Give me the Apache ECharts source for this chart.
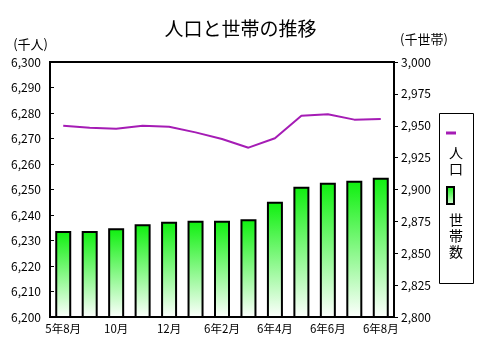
<!DOCTYPE html>
<html>
<head>
<meta charset="utf-8">
<style>html,body{margin:0;padding:0;background:#fff;}#c{width:481px;height:352px;}</style>
<script src="https://cdn.jsdelivr.net/npm/echarts@6/dist/echarts.min.js"></script>
</head>
<body>
<div id="c"></div>
<script>
const categories = ['5年8月','9月','10月','11月','12月','6年1月','6年2月','3月','6年4月','5月','6年6月','7月','6年8月'];
const population = [6275.0, 6274.2, 6273.8, 6275.0, 6274.6, 6272.4, 6269.8, 6266.4, 6270.1, 6278.9, 6279.5, 6277.4, 6277.6];
const households = [2867.5, 2867.5, 2869.6, 2872.7, 2874.7, 2875.5, 2875.5, 2876.6, 2890.4, 2902.2, 2905.3, 2906.9, 2909.3];
const leftTicks = {min: 6200, max: 6300, interval: 10};
const rightTicks = {min: 2800, max: 3000, interval: 25};

const FONT = '"Noto Sans CJK JP", sans-serif';
const fmt = v => v.toLocaleString('en-US');
const greenGrad = new echarts.graphic.LinearGradient(0, 0, 0, 1, [
  {offset: 0, color: '#0ef00e'}, {offset: 1, color: '#ffffff'}
]);

const chart = echarts.init(document.getElementById('c'), null, {renderer: 'canvas'});
chart.setOption({
  animation: false,
  textStyle: {fontFamily: FONT},
  title: {
    text: '人口と世帯の推移', left: 'center', top: 14,
    textStyle: {fontFamily: FONT, fontSize: 19, fontWeight: 'normal', color: '#000'}
  },
  grid: {left: 50, right: 87, top: 62, bottom: 35, show: true, borderColor: '#000', borderWidth: 2},
  xAxis: {
    type: 'category', data: categories, boundaryGap: true,
    axisLine: {lineStyle: {color: '#000', width: 2}},
    axisTick: {alignWithLabel: true, length: 4, interval: 0, lineStyle: {color: '#000', width: 1}},
    axisLabel: {interval: 1, color: '#000', fontSize: 11.5, margin: 6, fontFamily: FONT}
  },
  yAxis: [
    {
      type: 'value', min: leftTicks.min, max: leftTicks.max, interval: leftTicks.interval,
      name: '(千人)', nameLocation: 'end', nameGap: 11,
      nameTextStyle: {align: 'right', color: '#000', fontSize: 13, fontFamily: FONT, padding: [0, 2, 0, 0]},
      axisLine: {show: true, lineStyle: {color: '#000', width: 2}},
      axisTick: {show: true, inside: true, length: 4, lineStyle: {color: '#000'}},
      splitLine: {show: false},
      axisLabel: {color: '#000', fontSize: 12, margin: 9, formatter: fmt, fontFamily: FONT}
    },
    {
      type: 'value', min: rightTicks.min, max: rightTicks.max, interval: rightTicks.interval,
      name: '(千世帯)', nameLocation: 'end', nameGap: 16,
      nameTextStyle: {align: 'left', color: '#000', fontSize: 13, fontFamily: FONT, padding: [0, 0, 0, 6]},
      axisLine: {show: true, lineStyle: {color: '#000', width: 2}},
      axisTick: {show: true, inside: false, length: 4, lineStyle: {color: '#000'}},
      splitLine: {show: false},
      axisLabel: {color: '#000', fontSize: 12, margin: 7, formatter: fmt, fontFamily: FONT}
    }
  ],
  series: [
    {
      name: '世帯数', type: 'bar', yAxisIndex: 1, data: households, barWidth: 16,
      itemStyle: {color: greenGrad, borderColor: '#000', borderWidth: 2}
    },
    {
      name: '人口', type: 'line', yAxisIndex: 0, data: population, symbol: 'none',
      lineStyle: {color: '#a51cb5', width: 2}, z: 5
    }
  ],
  graphic: [
    {type: 'rect', left: 439, top: 113, shape: {width: 34, height: 170},
     style: {fill: '#fff', stroke: '#000', lineWidth: 1}},
    {type: 'line', shape: {x1: 446, y1: 133, x2: 456, y2: 133},
     style: {stroke: '#a51cb5', lineWidth: 3}},
    {type: 'text', left: 449, top: 145,
     style: {text: '人\n口', font: '14px ' + FONT, fill: '#000', lineHeight: 16}},
    {type: 'rect', shape: {x: 447, y: 187, width: 7, height: 17},
     style: {fill: new echarts.graphic.LinearGradient(0, 0, 0, 1, [{offset: 0, color: '#0ef00e'}, {offset: 1, color: '#dfffdf'}]), stroke: '#000', lineWidth: 2}},
    {type: 'text', left: 449, top: 212,
     style: {text: '世\n帯\n数', font: '14px ' + FONT, fill: '#000', lineHeight: 16}}
  ]
});
</script>
</body>
</html>
